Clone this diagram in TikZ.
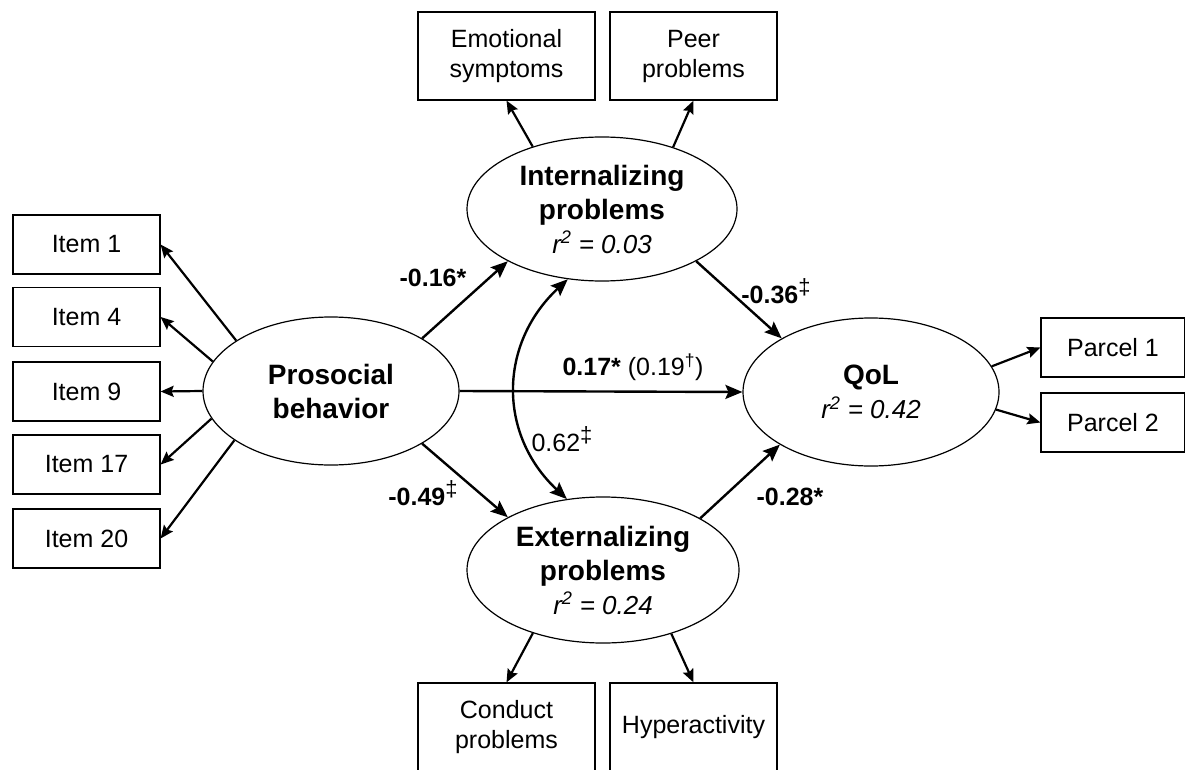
\documentclass[tikz,border=0pt]{standalone}
\usepackage{fontspec}
\setmainfont{Liberation Sans}
\usetikzlibrary{shapes.geometric,arrows.meta}
\newcommand{\supdd}{\raisebox{9pt}{\mdseries\fontsize{22}{22}\selectfont ‡}}
\begin{document}
\begin{tikzpicture}[x=1pt,y=-1pt,
 box/.style={draw,line width=1.2pt,inner sep=0pt,align=center,font=\fontsize{25}{30}\selectfont},
 lat/.style={draw,ellipse,line width=1.2pt,inner sep=0pt},
 lattext/.style={align=center,font=\fontsize{28}{34}\selectfont\bfseries},
 big/.style={line width=2.4pt,-{Stealth[length=17pt,width=14pt,inset=3pt]}},
 small/.style={line width=2.2pt,-{Stealth[length=13pt,width=11pt,inset=2pt]}},
 lbl/.style={font=\fontsize{25}{30}\selectfont\bfseries},
 rlbl/.style={font=\fontsize{25}{30}\selectfont},
]
\useasboundingbox (0,0) rectangle (1185,770);
\clip (0,0) rectangle (1185,770);
% boxes
\node[box,minimum width=177pt,minimum height=88pt] (em) at (506.5,56) {Emotional\\symptoms};
\node[box,minimum width=167pt,minimum height=88pt] (peer) at (693.5,56) {Peer\\problems};
\node[box,minimum width=177pt,minimum height=89pt] (cond) at (506.5,727.5) {Conduct\\problems};
\node[box,minimum width=167pt,minimum height=89pt] (hyp) at (693.5,727.5) {Hyperactivity};
\node[box,minimum width=147pt,minimum height=59pt] (i1) at (86.5,244.5) {Item 1};
\node[box,minimum width=147pt,minimum height=59pt] (i4) at (86.5,317) {Item 4};
\node[box,minimum width=147pt,minimum height=59pt] (i9) at (86.5,391.5) {Item 9};
\node[box,minimum width=147pt,minimum height=59pt] (i17) at (86.5,464.5) {Item 17};
\node[box,minimum width=147pt,minimum height=59pt] (i20) at (86.5,538.5) {Item 20};
\node[box,minimum width=144pt,minimum height=59pt] (p1) at (1113,347.5) {Parcel 1};
\node[box,minimum width=144pt,minimum height=59pt] (p2) at (1113,422.5) {Parcel 2};
% latent variables
\node[lat,minimum width=256pt,minimum height=148pt] (pro) at (331,391) {};
\node[lattext] at (pro) {Prosocial\\behavior};
\node[lat,minimum width=270pt,minimum height=144pt] (int) at (602,209) {};
\node[lattext] at (int) {Internalizing\\problems\\{\mdseries\itshape\fontsize{26}{34}\selectfont r\textsuperscript{2} = 0.03}};
\node[lat,minimum width=272pt,minimum height=146pt] (ext) at (603,570) {};
\node[lattext] at (ext) {Externalizing\\problems\\{\mdseries\itshape\fontsize{26}{34}\selectfont r\textsuperscript{2} = 0.24}};
\node[lat,minimum width=256pt,minimum height=148pt] (qol) at (871,392) {};
\node[lattext] at (qol) {QoL\\{\mdseries\itshape\fontsize{26}{34}\selectfont r\textsuperscript{2} = 0.42}};
% indicator arrows
\draw[small] (pro.152.5) -- (i1.east);
\draw[small] (pro.166.2) -- (i4.east);
\draw[small] (pro.180) -- (i9.east);
\draw[small] (pro.193.8) -- (i17.east);
\draw[small] (pro.207.5) -- (i20.east);
\draw[small] (int.138.5) -- (em.south);
\draw[small] (int.41.6) -- (peer.south);
\draw[small] (ext.222.4) -- (cond.north);
\draw[small] (ext.317.6) -- (hyp.north);
\draw[small] (qol.12.5) -- (p1.west);
\draw[small] (qol.352.8) -- (p2.west);
% structural paths
\draw[big] (pro.30) -- (int.209);
\draw[big] (pro.330) -- (ext.151.6);
\draw[big] (pro.east) -- (qol.west);
\draw[big] (int.331) -- (qol.149.3);
\draw[big] (ext.28.6) -- (qol.210.2);
\draw[line width=2.4pt,{Stealth[length=17pt,width=14pt,inset=3pt]}-{Stealth[length=17pt,width=14pt,inset=3pt]}] (int.244.4) to[out=223,in=137,looseness=1.1] (ext.117);
% labels
\node[lbl] (l1) at (433,278) {-0.16*};
\node[rlbl] (l2) at (633,367) {\textbf{0.17*} (0.19\textsuperscript{†})};
\node[lbl] (l3) at (776,291) {-0.36\supdd};
\node[lbl] (l4) at (423,493) {-0.49\supdd};
\node[lbl] (l5) at (790,497) {-0.28*};
\node[rlbl] (l6) at (562,439) {0.62\supdd};
\end{tikzpicture}
\end{document}
